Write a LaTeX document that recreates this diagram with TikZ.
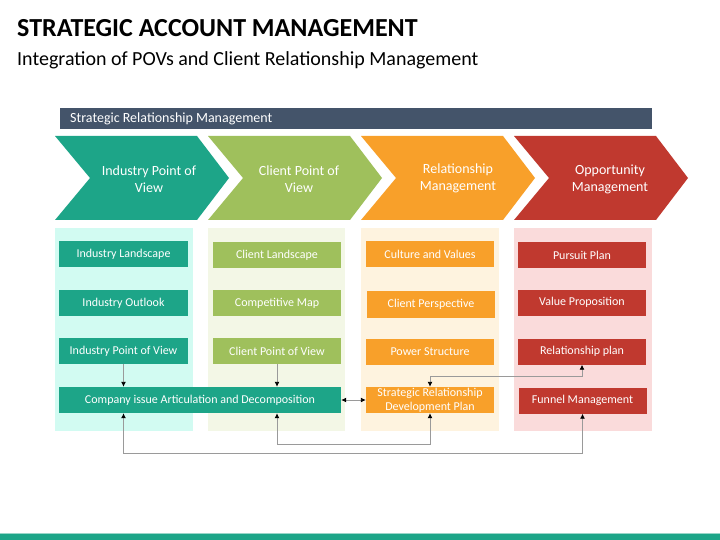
\documentclass[tikz,border=0pt]{standalone}
\usepackage{fontspec}
\setmainfont{Carlito}
\usetikzlibrary{arrows.meta}
\definecolor{teal1}{HTML}{1DA588}
\definecolor{green1}{HTML}{9FC05C}
\definecolor{orange1}{HTML}{F8A02A}
\definecolor{red1}{HTML}{C0392F}
\definecolor{bar1}{HTML}{44546A}
\definecolor{bg1}{HTML}{D2FBF2}
\definecolor{bg2}{HTML}{F3F7E6}
\definecolor{bg3}{HTML}{FEF3DF}
\definecolor{bg4}{HTML}{FADBDB}
\definecolor{line1}{HTML}{9A9A9A}
\begin{document}
\begin{tikzpicture}[x=1pt,y=-1pt,
  box/.style={minimum height=26pt,inner sep=0pt,text=white,font=\fontsize{12}{14}\selectfont,align=center},
  chevlabel/.style={text=white,font=\fontsize{14}{17}\selectfont,align=center},
  conn/.style={draw=line1,line width=0.9pt,-{Latex[black,length=5pt,width=5pt]}},
  dconn/.style={draw=line1,line width=0.9pt,{Latex[black,length=5pt,width=5pt]}-{Latex[black,length=5pt,width=5pt]}}]
\useasboundingbox (0,0) rectangle (720,540);
\fill[white] (0,0) rectangle (720,540);
% title
\node[anchor=base west,inner sep=0pt,font=\fontsize{26}{30}\selectfont\bfseries] (title) at (17,37) {STRATEGIC ACCOUNT MANAGEMENT};
\node[anchor=base west,inner sep=0pt,font=\fontsize{20}{24}\selectfont] (subtitle) at (17,65.5) {Integration of POVs and Client Relationship Management};
% top bar
\fill[bar1] (60,108) rectangle (652,129);
\node[anchor=west,inner sep=0pt,text=white,font=\fontsize{14}{16}\selectfont] (barlabel) at (70,119) {Strategic Relationship Management};
% chevrons
\foreach \L/\c in {55/teal1,208/green1,361/orange1,514/red1}{
  \fill[\c] (\L,136) -- (\L+142,136) -- (\L+174,178) -- (\L+142,220) -- (\L,220) -- (\L+35,178) -- cycle;
}
\node[chevlabel] (ch1) at (149,179) {Industry Point of\\View};
\node[chevlabel] (ch2) at (299,179) {Client Point of\\View};
\node[chevlabel] (ch3) at (458,178) {Relationship\\Management};
\node[chevlabel] (ch4) at (610,179) {Opportunity\\Management};
% column backgrounds
\fill[bg1] (55,228) rectangle (193,431);
\fill[bg2] (208,228) rectangle (345,431);
\fill[bg3] (361,228) rectangle (499,431);
\fill[bg4] (514,228) rectangle (652,431);
% column 1
\node[box,fill=teal1,minimum width=129pt] (il) at (123.5,254) {Industry Landscape};
\node[box,fill=teal1,minimum width=129pt] (io) at (123.5,303) {Industry Outlook};
\node[box,fill=teal1,minimum width=129pt] (ipov) at (123.5,351) {Industry Point of View};
\node[box,fill=teal1,minimum width=282pt] (company) at (200,400) {Company issue Articulation and Decomposition};
% column 2
\node[box,fill=green1,minimum width=128pt] (cl) at (277,255) {Client Landscape};
\node[box,fill=green1,minimum width=128pt] (cm) at (277,303) {Competitive Map};
\node[box,fill=green1,minimum width=128pt] (cpov) at (277,351) {Client Point of View};
% column 3
\node[box,fill=orange1,minimum width=128pt] (cv) at (430,254) {Culture and Values};
\node[box,fill=orange1,minimum width=128pt,minimum height=27pt] (cp) at (431,304.5) {Client Perspective};
\node[box,fill=orange1,minimum width=128pt] (ps) at (430,352) {Power Structure};
\node[box,fill=orange1,minimum width=128pt] (srdp) at (430,400) {Strategic Relationship\\Development Plan};
% column 4
\node[box,fill=red1,minimum width=128pt] (pp) at (582,255) {Pursuit Plan};
\node[box,fill=red1,minimum width=128pt] (vp) at (582,302.5) {Value Proposition};
\node[box,fill=red1,minimum width=128pt] (rp) at (582,351.5) {Relationship plan};
\node[box,fill=red1,minimum width=128pt] (fm) at (582.5,400.5) {Funnel Management};
% connectors
\draw[conn] (ipov.south) -- (ipov.south |- company.north);
\draw[conn] (cpov.south) -- (cpov.south |- company.north);
\draw[dconn] (company.east) -- (srdp.west);
\draw[dconn] (rp.south) -- ++(0,12) -| (srdp.north);
\draw[dconn] (cpov.south |- company.south) -- ++(0,31) -| (srdp.south);
\draw[dconn] (ipov.south |- company.south) -- ++(0,40) -| (fm.south);
% bottom bar
\fill[teal1!45] (0,532.5) rectangle (720,534);
\fill[teal1] (0,534) rectangle (720,540);
\end{tikzpicture}
\end{document}
